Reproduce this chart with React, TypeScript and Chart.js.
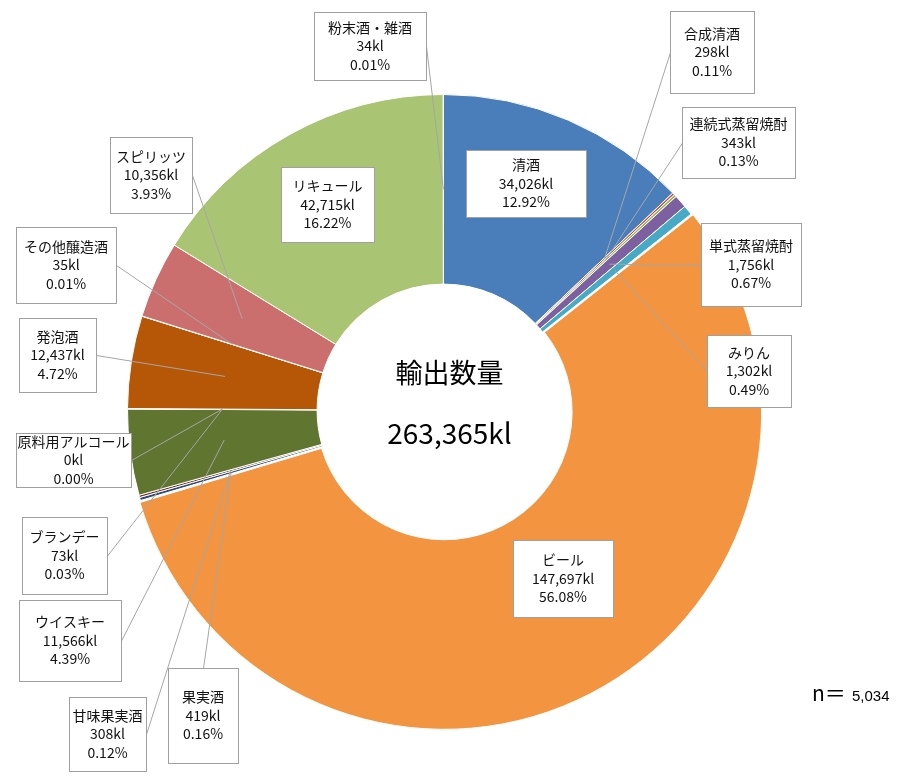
import React, { useEffect, useRef } from 'react';
import { Chart, registerables } from 'chart.js';

Chart.register(...registerables);

// ---- data ----
const categories = [
  '清酒', '合成清酒', '連続式蒸留焼酎', '単式蒸留焼酎', 'みりん', 'ビール',
  '果実酒', '甘味果実酒', 'ウイスキー', 'ブランデー', '原料用アルコール', '発泡酒',
  'その他醸造酒', 'スピリッツ', 'リキュール', '粉末酒・雑酒',
];
const volumesKl = [
  34026, 298, 343, 1756, 1302, 147697,
  419, 308, 11566, 73, 0, 12437,
  35, 10356, 42715, 34,
];
const sliceColors = [
  '#4A7EBB', '#BE4B48', '#98B954', '#7D60A0', '#46AAC5', '#F29440',
  '#2C4D75', '#772C2A', '#5F7530', '#4D3B62', '#276A7C', '#B65708',
  '#729ACA', '#CB6F6E', '#A9C472', '#A18FBD',
];
const explodedCategory = 'ビール';
const centerTitle = '輸出数量';
const unit = 'kl';
const sampleLabel = 'n＝';
const sampleSize = '5,034';

// ---- layout of callout boxes: x, y, w, h, side where leader line attaches ----
const labelBoxes: [number, number, number, number, string][] = [
  [466, 150, 120, 67, ''],   // 清酒
  [670, 11, 84, 82, 'l'],    // 合成清酒
  [682, 107, 113, 71, 'l'],  // 連続式蒸留焼酎
  [701, 223, 100, 83, 'l'],  // 単式蒸留焼酎
  [707, 335, 84, 72, 'l'],   // みりん
  [513, 540, 100, 77, ''],   // ビール
  [168, 668, 70, 95, 't'],   // 果実酒
  [69, 697, 77, 74, 'r'],    // 甘味果実酒
  [19, 600, 102, 81, 'r'],   // ウイスキー
  [22, 517, 85, 77, 'r'],    // ブランデー
  [16, 433, 115, 54, 'r'],   // 原料用アルコール
  [19, 318, 77, 74, 'r'],    // 発泡酒
  [16, 227, 100, 76, 'r'],   // その他醸造酒
  [110, 137, 82, 76, 'r'],   // スピリッツ
  [281, 167, 93, 75, ''],    // リキュール
  [314, 12, 112, 68, 'r'],   // 粉末酒・雑酒
];

const JP = '"Noto Sans CJK JP", "Noto Sans", sans-serif';

const total = volumesKl.reduce((a, b) => a + b, 0);
const fmt = (v: number) => v.toLocaleString('en-US');

const calloutPlugin = {
  id: 'callouts',
  afterDatasetsDraw(chart: any) {
    const ctx = chart.ctx as CanvasRenderingContext2D;
    const meta = chart.getDatasetMeta(0);
    ctx.save();
    // leader lines
    ctx.strokeStyle = '#A6A6A6';
    ctx.lineWidth = 1;
    meta.data.forEach((arc: any, i: number) => {
      const [x, y, w, h, side] = labelBoxes[i];
      if (!side) return;
      const p = arc.getCenterPoint();
      let ax = x, ay = y + h / 2;
      if (side === 'r') { ax = x + w; }
      if (side === 't') { ax = x + w / 2; ay = y; }
      ctx.beginPath();
      ctx.moveTo(ax + 0.5, ay + 0.5);
      ctx.lineTo(p.x, p.y);
      ctx.stroke();
    });
    // boxes
    meta.data.forEach((_arc: any, i: number) => {
      const [x, y, w, h] = labelBoxes[i];
      ctx.fillStyle = '#FFFFFF';
      ctx.fillRect(x, y, w, h);
      ctx.strokeStyle = '#A0A0A0';
      ctx.lineWidth = 1;
      ctx.strokeRect(x + 0.5, y + 0.5, w, h);
      const lines = [
        categories[i],
        fmt(volumesKl[i]) + unit,
        ((volumesKl[i] / total) * 100).toFixed(2) + '%',
      ];
      ctx.fillStyle = '#111111';
      ctx.font = `14px ${JP}`;
      ctx.textAlign = 'center';
      ctx.textBaseline = 'middle';
      const cx = x + w / 2;
      const cy = y + h / 2;
      lines.forEach((t, k) => ctx.fillText(t, cx, cy + (k - 1) * 18.5));
    });
    // centre text
    const ca = chart.chartArea;
    const ccx = (ca.left + ca.right) / 2;
    const ccy = (ca.top + ca.bottom) / 2;
    ctx.fillStyle = '#000000';
    ctx.textAlign = 'center';
    ctx.textBaseline = 'middle';
    ctx.font = `27px ${JP}`;
    ctx.fillText(centerTitle, ccx + 6, ccy - 38);
    ctx.font = `28px ${JP}`;
    ctx.fillText(fmt(total) + unit, ccx + 6, ccy + 23);
    // sample size
    ctx.textAlign = 'left';
    ctx.textBaseline = 'alphabetic';
    ctx.font = `21px ${JP}`;
    ctx.fillText(sampleLabel, 812, 701);
    ctx.font = '15px "Liberation Sans", Arial, sans-serif';
    ctx.fillText(sampleSize, 852, 701);
    ctx.restore();
  },
};

export default function App() {
  const canvasRef = useRef<HTMLCanvasElement | null>(null);
  useEffect(() => {
    if (!canvasRef.current) return;
    const chart = new Chart(canvasRef.current, {
      type: 'doughnut',
      data: {
        labels: categories,
        datasets: [
          {
            data: volumesKl,
            backgroundColor: sliceColors,
            borderColor: '#FFFFFF',
            borderWidth: 1,
            offset: categories.map((c) => (c === explodedCategory ? 6 : 0)),
          },
        ],
      },
      options: {
        animation: false,
        responsive: false,
        radius: 316,
        cutout: '40%',
        layout: { padding: { left: 0, right: 13, top: 40, bottom: 0 } },
        plugins: {
          legend: { display: false },
          tooltip: { enabled: false },
        },
      } as any,
      plugins: [calloutPlugin],
    });
    return () => chart.destroy();
  }, []);
  return (
    <div style={{ position: 'absolute', left: 0, top: 0, width: 900, height: 781, background: '#fff' }}>
      <canvas ref={canvasRef} width={900} height={781} style={{ display: 'block' }} />
    </div>
  );
}
